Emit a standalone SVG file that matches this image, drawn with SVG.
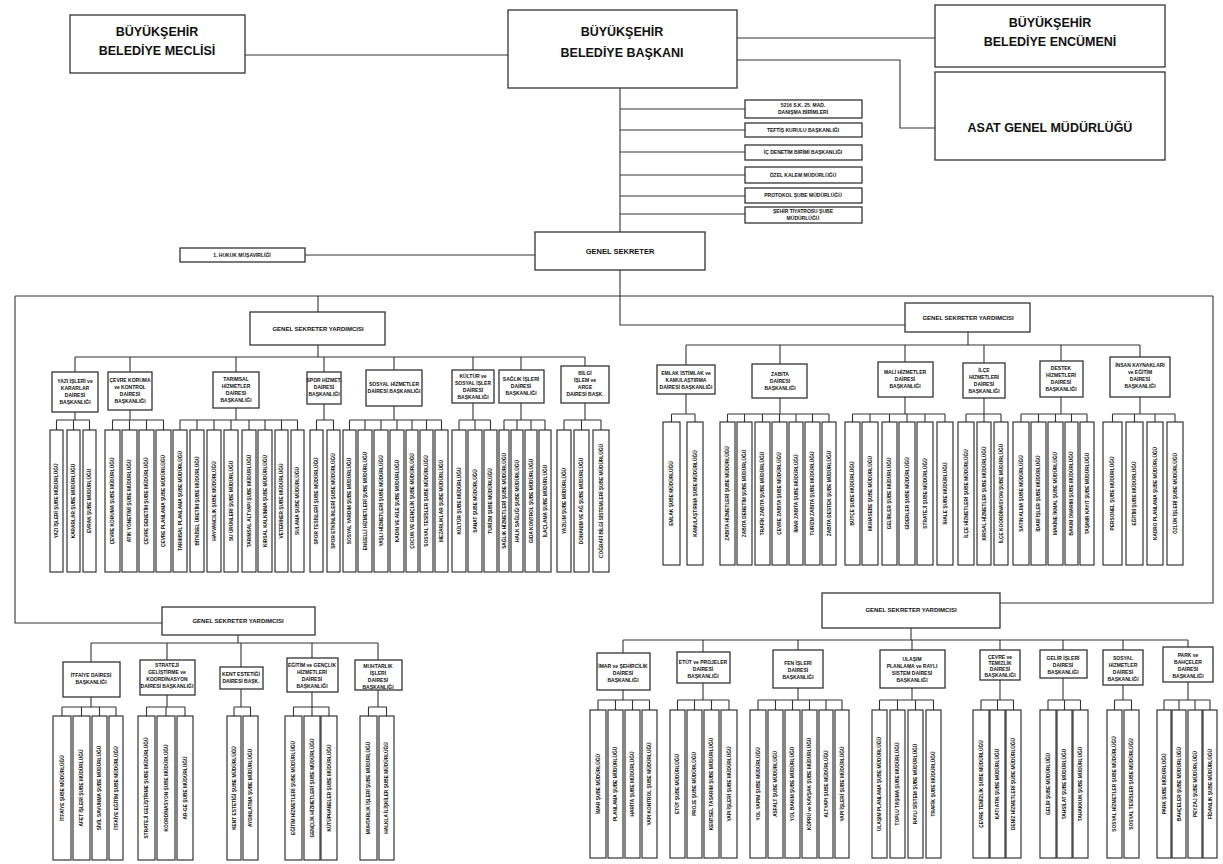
<svg xmlns="http://www.w3.org/2000/svg" width="1223" height="864" viewBox="0 0 1223 864">
<style>
text{font-family:"Liberation Sans",Arial,sans-serif;font-weight:bold;fill:#111;text-anchor:middle}
.b{fill:#fff;stroke:#333;stroke-width:1.3}
.s{fill:#fff;stroke:#222;stroke-width:1.1}
.c{fill:none;stroke:#333;stroke-width:1.1}
.t1{font-size:12.5px}
.t2{font-size:6px}
.t3{font-size:7.5px}
.t4{font-size:5px}
.st{font-size:4.8px;dominant-baseline:central}
</style>
<rect width="1223" height="864" fill="#fff"/>
<g id="connectors" class="c">
<path d="M245 55H508M737 38H935M737 60H900V128H935"/>
<path d="M620 88V232M620 109H745M620 130H745M620 152H745M620 175H745M620 196H745M620 214H745M305 255H535"/>
<path d="M620 270V325H905M15 296H1213M15 296V623H162M1213 296V603H1000M318 296V312"/>
<path d="M318 345V357M75 357H585M75 357V372M130 357V372M236 357V372M324 357V372M394 357V370M473 357V370M521 357V370M585 357V366"/>
<path d="M75 412V420M56.5 420H89.5M56.5 420V430M73.5 420V430M89.5 420V430"/>
<path d="M130 410V420M112.5 420H163.5M112.5 420V430M129.5 420V430M146.5 420V430M163.5 420V430"/>
<path d="M236 408V420M180 420H297.5M180 420V430M197 420V430M214 420V430M231 420V430M249 420V430M265 420V430M281.5 420V430M297.5 420V430"/>
<path d="M324 404V420M316.5 420H333.5M316.5 420V430M333.5 420V430"/>
<path d="M394 406V420M349.5 420H441.5M349.5 420V430M365 420V430M381 420V430M397 420V430M412 420V430M426.5 420V430M441.5 420V430"/>
<path d="M473 403V420M459 420H490.5M459 420V430M475 420V430M490.5 420V430"/>
<path d="M521 403V420M504 420H545M504 420V430M517 420V430M531 420V430M545 420V430"/>
<path d="M585 403V420M564 420H601M564 420V430M581.5 420V430M601 420V430"/>
<path d="M968 332V345M686 345H1140M686 345V365M780 345V364M905 345V362M984 345V363M1061 345V361M1140 345V357"/>
<path d="M686 394V414M671.5 414H695M671.5 414V422M695 414V422"/>
<path d="M780 398V414M727.5 414H829M727.5 414V422M744.5 414V422M762.5 414V422M779.5 414V422M796 414V422M812.5 414V422M829 414V422"/>
<path d="M905 397V414M852.5 414H945M852.5 414V422M870 414V422M889.5 414V422M907 414V422M925 414V422M945 414V422"/>
<path d="M984 398V414M966 414H1001M966 414V422M984 414V422M1001 414V422"/>
<path d="M1061 397V414M1021 414H1087M1021 414V422M1038.5 414V422M1055.5 414V422M1071.5 414V422M1087 414V422"/>
<path d="M1140 397V414M1112.5 414H1175M1112.5 414V422M1134.5 414V422M1155 414V422M1175 414V422"/>
<path d="M238 635V643M91 643H378M91 643V662M167 643V660M241 643V667M312 643V658M378 643V660"/>
<path d="M91 697V707M62 707H116M62 707V716M81.5 707V716M99.5 707V716M116 707V716"/>
<path d="M167 695V707M146.5 707H185M146.5 707V716M166 707V716M185 707V716"/>
<path d="M241 689V707M234 707H250.5M234 707V716M250.5 707V716"/>
<path d="M312 692V707M293.5 707H329M293.5 707V716M312 707V716M329 707V716"/>
<path d="M378 690V707M368.5 707H386.5M368.5 707V716M386.5 707V716"/>
<path d="M911 628V640M623 640H1188M623 640V653M703 640V652M798 640V650M912 640V650M1000 640V650M1063 640V650M1123 640V650M1188 640V647"/>
<path d="M623 690V700M598 700H649.5M598 700V710M615.5 700V710M632.5 700V710M649.5 700V710"/>
<path d="M703 683V700M677.5 700H729M677.5 700V710M694.5 700V710M711.5 700V710M729 700V710"/>
<path d="M798 688V700M758 700H842M758 700V710M775.5 700V710M792.5 700V710M809.5 700V710M826 700V710M842 700V710"/>
<path d="M912 688V700M879.5 700H933.5M879.5 700V710M897.5 700V710M915.5 700V710M933.5 700V710"/>
<path d="M1000 680V700M981 700H1013.5M981 700V710M997.5 700V710M1013.5 700V710"/>
<path d="M1063 678V700M1048 700H1080.5M1048 700V710M1064.5 700V710M1080.5 700V710"/>
<path d="M1123 685V700M1114.5 700H1131.5M1114.5 700V710M1131.5 700V710"/>
<path d="M1188 682V700M1164 700H1210M1164 700V710M1179 700V710M1195 700V710M1210 700V710"/>
</g>

<g id="meclis"><rect class="b" x="70" y="15" width="175" height="58"/><text class="t1" x="157" y="36">BÜYÜKŞEHİR</text><text class="t1" x="157" y="55">BELEDİYE MECLİSİ</text></g>
<g id="baskan"><rect class="b" x="508" y="10" width="229" height="78"/><text class="t1" x="622" y="36">BÜYÜKŞEHİR</text><text class="t1" x="622" y="57">BELEDİYE BAŞKANI</text></g>
<g id="encumen"><rect class="b" x="935" y="5" width="230" height="62"/><text class="t1" x="1050" y="27">BÜYÜKŞEHİR</text><text class="t1" x="1050" y="46">BELEDİYE ENCÜMENİ</text></g>
<g id="asat"><rect class="b" x="935" y="72" width="230" height="88"/><text class="t1" x="1050" y="132">ASAT GENEL MÜDÜRLÜĞÜ</text></g>

<g id="danisma"><rect class="b" x="745" y="100" width="117" height="18"/><text class="t4" x="803" y="107">5216 S.K. 25. MAD.</text><text class="t4" x="803" y="114">DANIŞMA BİRİMLERİ</text></g>
<g id="teftis"><rect class="b" x="745" y="123" width="117" height="14"/><text class="t4" x="803" y="132">TEFTİŞ KURULU BAŞKANLIĞI</text></g>
<g id="icdenetim"><rect class="b" x="745" y="145" width="117" height="15"/><text class="t4" x="803" y="154">İÇ DENETİM BİRİMİ BAŞKANLIĞI</text></g>
<g id="ozelkalem"><rect class="b" x="745" y="167" width="117" height="16"/><text class="t4" x="803" y="177">ÖZEL KALEM MÜDÜRLÜĞÜ</text></g>
<g id="protokol"><rect class="b" x="745" y="188" width="117" height="15"/><text class="t4" x="803" y="197">PROTOKOL ŞUBE MÜDÜRLÜĞÜ</text></g>
<g id="tiyatro"><rect class="b" x="745" y="207" width="117" height="16"/><text class="t4" x="803" y="213">ŞEHİR TİYATROSU ŞUBE</text><text class="t4" x="803" y="220">MÜDÜRLÜĞÜ</text></g>

<g id="hukuk"><rect class="b" x="180" y="248" width="125" height="14"/><text class="t4" x="242" y="257">1. HUKUK MÜŞAVİRLİĞİ</text></g>
<g id="genelsekreter"><rect class="b" x="535" y="232" width="170" height="38"/><text class="t3" x="620" y="254">GENEL SEKRETER</text></g>

<g id="gsy1"><rect class="b" x="250" y="312" width="135" height="33"/><text class="t2" x="318" y="331">GENEL SEKRETER YARDIMCISI</text></g>
<g id="gsy2"><rect class="b" x="905" y="303" width="125" height="29"/><text class="t2" x="968" y="320">GENEL SEKRETER YARDIMCISI</text></g>
<g id="gsy3"><rect class="b" x="162" y="607" width="153" height="28"/><text class="t2" x="238" y="623">GENEL SEKRETER YARDIMCISI</text></g>
<g id="gsy4"><rect class="b" x="822" y="593" width="178" height="35"/><text class="t2" x="911" y="612">GENEL SEKRETER YARDIMCISI</text></g>

<!-- Group 1 departments -->
<g id="g1d1"><rect class="b" x="52" y="372" width="46" height="40"/><text class="t4" x="75" y="383">YAZI İŞLERİ ve</text><text class="t4" x="75" y="390">KARARLAR</text><text class="t4" x="75" y="397">DAİRESİ</text><text class="t4" x="75" y="404">BAŞKANLIĞI</text></g>
<g id="g1d2"><rect class="b" x="108" y="372" width="44" height="38"/><text class="t4" x="130" y="382">ÇEVRE KORUMA</text><text class="t4" x="130" y="389">ve KONTROL</text><text class="t4" x="130" y="396">DAİRESİ</text><text class="t4" x="130" y="403">BAŞKANLIĞI</text></g>
<g id="g1d3"><rect class="b" x="213" y="372" width="46" height="36"/><text class="t4" x="236" y="381">TARIMSAL</text><text class="t4" x="236" y="388">HİZMETLER</text><text class="t4" x="236" y="395">DAİRESİ</text><text class="t4" x="236" y="402">BAŞKANLIĞI</text></g>
<g id="g1d4"><rect class="b" x="307" y="372" width="34" height="32"/><text class="t4" x="324" y="382">SPOR HİZMET.</text><text class="t4" x="324" y="389">DAİRESİ</text><text class="t4" x="324" y="396">BAŞKANLIĞI</text></g>
<g id="g1d5"><rect class="b" x="366" y="370" width="56" height="36"/><text class="t4" x="394" y="386">SOSYAL HİZMETLER</text><text class="t4" x="394" y="393">DAİRESİ BAŞKANLIĞI</text></g>
<g id="g1d6"><rect class="b" x="452" y="370" width="42" height="33"/><text class="t4" x="473" y="378">KÜLTÜR ve</text><text class="t4" x="473" y="385">SOSYAL İŞLER</text><text class="t4" x="473" y="392">DAİRESİ</text><text class="t4" x="473" y="399">BAŞKANLIĞI</text></g>
<g id="g1d7"><rect class="b" x="499" y="370" width="45" height="33"/><text class="t4" x="521" y="381">SAĞLIK İŞLERİ</text><text class="t4" x="521" y="388">DAİRESİ</text><text class="t4" x="521" y="395">BAŞKANLIĞI</text></g>
<g id="g1d8"><rect class="b" x="561" y="366" width="48" height="37"/><text class="t4" x="585" y="375">BİLGİ</text><text class="t4" x="585" y="382">İŞLEM ve</text><text class="t4" x="585" y="389">ARGE</text><text class="t4" x="585" y="396">DAİRESİ BAŞK.</text></g>

<!-- Group 1 units -->
<g id="g1d1u1"><rect class="s" x="50" y="430" width="13" height="142"/><text class="st" transform="translate(56.5 501) rotate(-90)">YAZI İŞLERİ ŞUBE MÜDÜRLÜĞÜ</text></g>
<g id="g1d1u2"><rect class="s" x="67" y="430" width="13" height="142"/><text class="st" transform="translate(73.5 501) rotate(-90)">KARARLAR ŞUBE MÜDÜRLÜĞÜ</text></g>
<g id="g1d1u3"><rect class="s" x="83" y="430" width="13" height="142"/><text class="st" transform="translate(89.5 501) rotate(-90)">EVRAK ŞUBE MÜDÜRLÜĞÜ</text></g>
<g id="g1d2u1"><rect class="s" x="105" y="430" width="15" height="142"/><text class="st" transform="translate(112.5 501) rotate(-90)">ÇEVRE KORUMA ŞUBE MÜDÜRLÜĞÜ</text></g>
<g id="g1d2u2"><rect class="s" x="122" y="430" width="15" height="142"/><text class="st" transform="translate(129.5 501) rotate(-90)">ATIK YÖNETİMİ ŞUBE MÜDÜRLÜĞÜ</text></g>
<g id="g1d2u3"><rect class="s" x="139" y="430" width="15" height="142"/><text class="st" transform="translate(146.5 501) rotate(-90)">ÇEVRE DENETİM ŞUBE MÜDÜRLÜĞÜ</text></g>
<g id="g1d2u4"><rect class="s" x="156" y="430" width="15" height="142"/><text class="st" transform="translate(163.5 501) rotate(-90)">ÇEVRE PLANLAMA ŞUBE MÜDÜRLÜĞÜ</text></g>
<g id="g1d3u1"><rect class="s" x="173" y="430" width="14" height="142"/><text class="st" transform="translate(180 501) rotate(-90)">TARIMSAL PLANLAMA ŞUBE MÜDÜRLÜĞÜ</text></g>
<g id="g1d3u2"><rect class="s" x="190" y="430" width="14" height="142"/><text class="st" transform="translate(197 501) rotate(-90)">BİTKİSEL ÜRETİM ŞUBE MÜDÜRLÜĞÜ</text></g>
<g id="g1d3u3"><rect class="s" x="207" y="430" width="14" height="142"/><text class="st" transform="translate(214 501) rotate(-90)">HAYVANCILIK ŞUBE MÜDÜRLÜĞÜ</text></g>
<g id="g1d3u4"><rect class="s" x="224" y="430" width="14" height="142"/><text class="st" transform="translate(231 501) rotate(-90)">SU ÜRÜNLERİ ŞUBE MÜDÜRLÜĞÜ</text></g>
<g id="g1d3u5"><rect class="s" x="242" y="430" width="14" height="142"/><text class="st" transform="translate(249 501) rotate(-90)">TARIMSAL ALTYAPI ŞUBE MÜDÜRLÜĞÜ</text></g>
<g id="g1d3u6"><rect class="s" x="258" y="430" width="14" height="142"/><text class="st" transform="translate(265 501) rotate(-90)">KIRSAL KALKINMA ŞUBE MÜDÜRLÜĞÜ</text></g>
<g id="g1d3u7"><rect class="s" x="275" y="430" width="13" height="142"/><text class="st" transform="translate(281.5 501) rotate(-90)">VETERİNER ŞUBE MÜDÜRLÜĞÜ</text></g>
<g id="g1d3u8"><rect class="s" x="291" y="430" width="13" height="142"/><text class="st" transform="translate(297.5 501) rotate(-90)">SULAMA ŞUBE MÜDÜRLÜĞÜ</text></g>
<g id="g1d4u1"><rect class="s" x="310" y="430" width="13" height="142"/><text class="st" transform="translate(316.5 501) rotate(-90)">SPOR TESİSLERİ ŞUBE MÜDÜRLÜĞÜ</text></g>
<g id="g1d4u2"><rect class="s" x="327" y="430" width="13" height="142"/><text class="st" transform="translate(333.5 501) rotate(-90)">SPOR ETKİNLİKLERİ ŞUBE MÜDÜRLÜĞÜ</text></g>
<g id="g1d5u1"><rect class="s" x="343" y="430" width="13" height="142"/><text class="st" transform="translate(349.5 501) rotate(-90)">SOSYAL YARDIM ŞUBE MÜDÜRLÜĞÜ</text></g>
<g id="g1d5u2"><rect class="s" x="358" y="430" width="14" height="142"/><text class="st" transform="translate(365 501) rotate(-90)">ENGELLİ HİZMETLERİ ŞUBE MÜDÜRLÜĞÜ</text></g>
<g id="g1d5u3"><rect class="s" x="374" y="430" width="14" height="142"/><text class="st" transform="translate(381 501) rotate(-90)">YAŞLI HİZMETLERİ ŞUBE MÜDÜRLÜĞÜ</text></g>
<g id="g1d5u4"><rect class="s" x="390" y="430" width="14" height="142"/><text class="st" transform="translate(397 501) rotate(-90)">KADIN VE AİLE ŞUBE MÜDÜRLÜĞÜ</text></g>
<g id="g1d5u5"><rect class="s" x="406" y="430" width="12" height="142"/><text class="st" transform="translate(412 501) rotate(-90)">ÇOCUK VE GENÇLİK ŞUBE MÜDÜRLÜĞÜ</text></g>
<g id="g1d5u6"><rect class="s" x="420" y="430" width="13" height="142"/><text class="st" transform="translate(426.5 501) rotate(-90)">SOSYAL TESİSLER ŞUBE MÜDÜRLÜĞÜ</text></g>
<g id="g1d5u7"><rect class="s" x="435" y="430" width="13" height="142"/><text class="st" transform="translate(441.5 501) rotate(-90)">MEZARLIKLAR ŞUBE MÜDÜRLÜĞÜ</text></g>
<g id="g1d6u1"><rect class="s" x="452" y="430" width="14" height="142"/><text class="st" transform="translate(459 501) rotate(-90)">KÜLTÜR ŞUBE MÜDÜRLÜĞÜ</text></g>
<g id="g1d6u2"><rect class="s" x="468" y="430" width="14" height="142"/><text class="st" transform="translate(475 501) rotate(-90)">SANAT ŞUBE MÜDÜRLÜĞÜ</text></g>
<g id="g1d6u3"><rect class="s" x="484" y="430" width="13" height="142"/><text class="st" transform="translate(490.5 501) rotate(-90)">TURİZM ŞUBE MÜDÜRLÜĞÜ</text></g>
<g id="g1d7u1"><rect class="s" x="499" y="430" width="10" height="142"/><text class="st" transform="translate(504 501) rotate(-90)">SAĞLIK HİZMETLERİ ŞUBE MÜDÜRLÜĞÜ</text></g>
<g id="g1d7u2"><rect class="s" x="511" y="430" width="12" height="142"/><text class="st" transform="translate(517 501) rotate(-90)">HALK SAĞLIĞI ŞUBE MÜDÜRLÜĞÜ</text></g>
<g id="g1d7u3"><rect class="s" x="525" y="430" width="12" height="142"/><text class="st" transform="translate(531 501) rotate(-90)">GIDA KONTROL ŞUBE MÜDÜRLÜĞÜ</text></g>
<g id="g1d7u4"><rect class="s" x="539" y="430" width="12" height="142"/><text class="st" transform="translate(545 501) rotate(-90)">İLAÇLAMA ŞUBE MÜDÜRLÜĞÜ</text></g>
<g id="g1d8u1"><rect class="s" x="557" y="430" width="14" height="142"/><text class="st" transform="translate(564 501) rotate(-90)">YAZILIM ŞUBE MÜDÜRLÜĞÜ</text></g>
<g id="g1d8u2"><rect class="s" x="574" y="430" width="15" height="142"/><text class="st" transform="translate(581.5 501) rotate(-90)">DONANIM VE AĞ ŞUBE MÜDÜRLÜĞÜ</text></g>
<g id="g1d8u3"><rect class="s" x="593" y="430" width="16" height="142"/><text class="st" transform="translate(601 501) rotate(-90)">COĞRAFİ BİLGİ SİSTEMLERİ ŞUBE MÜDÜRLÜĞÜ</text></g>

<!-- Group 2 departments -->
<g id="g2d1"><rect class="b" x="657" y="365" width="58" height="29"/><text class="t4" x="686" y="375">EMLAK İSTİMLAK ve</text><text class="t4" x="686" y="382">KAMULAŞTIRMA</text><text class="t4" x="686" y="389">DAİRESİ BAŞKANLIĞI</text></g>
<g id="g2d2"><rect class="b" x="752" y="364" width="55" height="34"/><text class="t4" x="780" y="376">ZABITA</text><text class="t4" x="780" y="383">DAİRESİ</text><text class="t4" x="780" y="390">BAŞKANLIĞI</text></g>
<g id="g2d3"><rect class="b" x="878" y="362" width="55" height="35"/><text class="t4" x="905" y="374">MALİ HİZMETLER</text><text class="t4" x="905" y="381">DAİRESİ</text><text class="t4" x="905" y="388">BAŞKANLIĞI</text></g>
<g id="g2d4"><rect class="b" x="963" y="363" width="42" height="35"/><text class="t4" x="984" y="372">İLÇE</text><text class="t4" x="984" y="379">HİZMETLERİ</text><text class="t4" x="984" y="386">DAİRESİ</text><text class="t4" x="984" y="393">BAŞKANLIĞI</text></g>
<g id="g2d5"><rect class="b" x="1040" y="361" width="43" height="36"/><text class="t4" x="1061" y="370">DESTEK</text><text class="t4" x="1061" y="377">HİZMETLERİ</text><text class="t4" x="1061" y="384">DAİRESİ</text><text class="t4" x="1061" y="391">BAŞKANLIĞI</text></g>
<g id="g2d6"><rect class="b" x="1110" y="357" width="60" height="40"/><text class="t4" x="1140" y="367">İNSAN KAYNAKLARI</text><text class="t4" x="1140" y="374">ve EĞİTİM</text><text class="t4" x="1140" y="381">DAİRESİ</text><text class="t4" x="1140" y="388">BAŞKANLIĞI</text></g>

<!-- Group 2 units -->
<g id="g2d1u1"><rect class="s" x="663" y="422" width="17" height="143"/><text class="st" transform="translate(671.5 493.5) rotate(-90)">EMLAK ŞUBE MÜDÜRLÜĞÜ</text></g>
<g id="g2d1u2"><rect class="s" x="687" y="422" width="16" height="143"/><text class="st" transform="translate(695 493.5) rotate(-90)">KAMULAŞTIRMA ŞUBE MÜDÜRLÜĞÜ</text></g>
<g id="g2d2u1"><rect class="s" x="720" y="422" width="15" height="143"/><text class="st" transform="translate(727.5 493.5) rotate(-90)">ZABITA HİZMETLERİ ŞUBE MÜDÜRLÜĞÜ</text></g>
<g id="g2d2u2"><rect class="s" x="737" y="422" width="15" height="143"/><text class="st" transform="translate(744.5 493.5) rotate(-90)">ZABITA DENETİM ŞUBE MÜDÜRLÜĞÜ</text></g>
<g id="g2d2u3"><rect class="s" x="755" y="422" width="15" height="143"/><text class="st" transform="translate(762.5 493.5) rotate(-90)">TRAFİK ZABITA ŞUBE MÜDÜRLÜĞÜ</text></g>
<g id="g2d2u4"><rect class="s" x="772" y="422" width="15" height="143"/><text class="st" transform="translate(779.5 493.5) rotate(-90)">ÇEVRE ZABITA ŞUBE MÜDÜRLÜĞÜ</text></g>
<g id="g2d2u5"><rect class="s" x="789" y="422" width="14" height="143"/><text class="st" transform="translate(796 493.5) rotate(-90)">İMAR ZABITA ŞUBE MÜDÜRLÜĞÜ</text></g>
<g id="g2d2u6"><rect class="s" x="805" y="422" width="15" height="143"/><text class="st" transform="translate(812.5 493.5) rotate(-90)">TURİZM ZABITA ŞUBE MÜDÜRLÜĞÜ</text></g>
<g id="g2d2u7"><rect class="s" x="822" y="422" width="14" height="143"/><text class="st" transform="translate(829 493.5) rotate(-90)">ZABITA DESTEK ŞUBE MÜDÜRLÜĞÜ</text></g>
<g id="g2d3u1"><rect class="s" x="845" y="422" width="15" height="143"/><text class="st" transform="translate(852.5 493.5) rotate(-90)">BÜTÇE ŞUBE MÜDÜRLÜĞÜ</text></g>
<g id="g2d3u2"><rect class="s" x="862" y="422" width="16" height="143"/><text class="st" transform="translate(870 493.5) rotate(-90)">MUHASEBE ŞUBE MÜDÜRLÜĞÜ</text></g>
<g id="g2d3u3"><rect class="s" x="882" y="422" width="15" height="143"/><text class="st" transform="translate(889.5 493.5) rotate(-90)">GELİRLER ŞUBE MÜDÜRLÜĞÜ</text></g>
<g id="g2d3u4"><rect class="s" x="899" y="422" width="16" height="143"/><text class="st" transform="translate(907 493.5) rotate(-90)">GİDERLER ŞUBE MÜDÜRLÜĞÜ</text></g>
<g id="g2d3u5"><rect class="s" x="917" y="422" width="16" height="143"/><text class="st" transform="translate(925 493.5) rotate(-90)">STRATEJİ ŞUBE MÜDÜRLÜĞÜ</text></g>
<g id="g2d3u6"><rect class="s" x="937" y="422" width="16" height="143"/><text class="st" transform="translate(945 493.5) rotate(-90)">İHALE ŞUBE MÜDÜRLÜĞÜ</text></g>
<g id="g2d4u1"><rect class="s" x="958" y="422" width="16" height="143"/><text class="st" transform="translate(966 493.5) rotate(-90)">İLÇE HİZMETLERİ ŞUBE MÜDÜRLÜĞÜ</text></g>
<g id="g2d4u2"><rect class="s" x="977" y="422" width="14" height="143"/><text class="st" transform="translate(984 493.5) rotate(-90)">KIRSAL HİZMETLER ŞUBE MÜDÜRLÜĞÜ</text></g>
<g id="g2d4u3"><rect class="s" x="994" y="422" width="14" height="143"/><text class="st" transform="translate(1001 493.5) rotate(-90)">İLÇE KOORDİNASYON ŞUBE MÜDÜRLÜĞÜ</text></g>
<g id="g2d5u1"><rect class="s" x="1013" y="422" width="16" height="143"/><text class="st" transform="translate(1021 493.5) rotate(-90)">SATIN ALMA ŞUBE MÜDÜRLÜĞÜ</text></g>
<g id="g2d5u2"><rect class="s" x="1031" y="422" width="15" height="143"/><text class="st" transform="translate(1038.5 493.5) rotate(-90)">İDARİ İŞLER ŞUBE MÜDÜRLÜĞÜ</text></g>
<g id="g2d5u3"><rect class="s" x="1048" y="422" width="15" height="143"/><text class="st" transform="translate(1055.5 493.5) rotate(-90)">MAKİNE İKMAL ŞUBE MÜDÜRLÜĞÜ</text></g>
<g id="g2d5u4"><rect class="s" x="1065" y="422" width="13" height="143"/><text class="st" transform="translate(1071.5 493.5) rotate(-90)">BAKIM ONARIM ŞUBE MÜDÜRLÜĞÜ</text></g>
<g id="g2d5u5"><rect class="s" x="1080" y="422" width="14" height="143"/><text class="st" transform="translate(1087 493.5) rotate(-90)">TAŞINIR KAYIT ŞUBE MÜDÜRLÜĞÜ</text></g>
<g id="g2d6u1"><rect class="s" x="1103" y="422" width="19" height="143"/><text class="st" transform="translate(1112.5 493.5) rotate(-90)">PERSONEL ŞUBE MÜDÜRLÜĞÜ</text></g>
<g id="g2d6u2"><rect class="s" x="1126" y="422" width="17" height="143"/><text class="st" transform="translate(1134.5 493.5) rotate(-90)">EĞİTİM ŞUBE MÜDÜRLÜĞÜ</text></g>
<g id="g2d6u3"><rect class="s" x="1147" y="422" width="16" height="143"/><text class="st" transform="translate(1155 493.5) rotate(-90)">KADRO PLANLAMA ŞUBE MÜDÜRLÜĞÜ</text></g>
<g id="g2d6u4"><rect class="s" x="1167" y="422" width="16" height="143"/><text class="st" transform="translate(1175 493.5) rotate(-90)">ÖZLÜK İŞLERİ ŞUBE MÜDÜRLÜĞÜ</text></g>

<!-- Group 3 departments -->
<g id="g3d1"><rect class="b" x="63" y="662" width="57" height="35"/><text class="t4" x="91" y="677">İTFAİYE DAİRESİ</text><text class="t4" x="91" y="684">BAŞKANLIĞI</text></g>
<g id="g3d2"><rect class="b" x="140" y="660" width="55" height="35"/><text class="t4" x="167" y="667">STRATEJİ</text><text class="t4" x="167" y="674">GELİŞTİRME ve</text><text class="t4" x="167" y="681">KOORDİNASYON</text><text class="t4" x="167" y="688">DAİRESİ BAŞKANLIĞI</text></g>
<g id="g3d3"><rect class="b" x="220" y="667" width="43" height="22"/><text class="t4" x="241" y="676">KENT ESTETİĞİ</text><text class="t4" x="241" y="683">DAİRESİ BAŞK.</text></g>
<g id="g3d4"><rect class="b" x="287" y="658" width="51" height="34"/><text class="t4" x="312" y="667">EĞİTİM ve GENÇLİK</text><text class="t4" x="312" y="674">HİZMETLERİ</text><text class="t4" x="312" y="681">DAİRESİ</text><text class="t4" x="312" y="688">BAŞKANLIĞI</text></g>
<g id="g3d5"><rect class="b" x="355" y="660" width="47" height="30"/><text class="t4" x="378" y="668">MUHTARLIK</text><text class="t4" x="378" y="675">İŞLERİ</text><text class="t4" x="378" y="682">DAİRESİ</text><text class="t4" x="378" y="689">BAŞKANLIĞI</text></g>

<!-- Group 3 units -->
<g id="g3d1u1"><rect class="s" x="53" y="716" width="18" height="144"/><text class="st" transform="translate(62 788) rotate(-90)">İTFAİYE ŞUBE MÜDÜRLÜĞÜ</text></g>
<g id="g3d1u2"><rect class="s" x="73" y="716" width="17" height="144"/><text class="st" transform="translate(81.5 788) rotate(-90)">AFET İŞLERİ ŞUBE MÜDÜRLÜĞÜ</text></g>
<g id="g3d1u3"><rect class="s" x="92" y="716" width="15" height="144"/><text class="st" transform="translate(99.5 788) rotate(-90)">SİVİL SAVUNMA ŞUBE MÜDÜRLÜĞÜ</text></g>
<g id="g3d1u4"><rect class="s" x="109" y="716" width="14" height="144"/><text class="st" transform="translate(116 788) rotate(-90)">İTFAİYE EĞİTİM ŞUBE MÜDÜRLÜĞÜ</text></g>
<g id="g3d2u1"><rect class="s" x="138" y="716" width="17" height="144"/><text class="st" transform="translate(146.5 788) rotate(-90)">STRATEJİ GELİŞTİRME ŞUBE MÜDÜRLÜĞÜ</text></g>
<g id="g3d2u2"><rect class="s" x="157" y="716" width="18" height="144"/><text class="st" transform="translate(166 788) rotate(-90)">KOORDİNASYON ŞUBE MÜDÜRLÜĞÜ</text></g>
<g id="g3d2u3"><rect class="s" x="177" y="716" width="16" height="144"/><text class="st" transform="translate(185 788) rotate(-90)">AR-GE ŞUBE MÜDÜRLÜĞÜ</text></g>
<g id="g3d3u1"><rect class="s" x="227" y="716" width="14" height="144"/><text class="st" transform="translate(234 788) rotate(-90)">KENT ESTETİĞİ ŞUBE MÜDÜRLÜĞÜ</text></g>
<g id="g3d3u2"><rect class="s" x="243" y="716" width="15" height="144"/><text class="st" transform="translate(250.5 788) rotate(-90)">AYDINLATMA ŞUBE MÜDÜRLÜĞÜ</text></g>
<g id="g3d4u1"><rect class="s" x="285" y="716" width="17" height="144"/><text class="st" transform="translate(293.5 788) rotate(-90)">EĞİTİM HİZMETLERİ ŞUBE MÜDÜRLÜĞÜ</text></g>
<g id="g3d4u2"><rect class="s" x="304" y="716" width="16" height="144"/><text class="st" transform="translate(312 788) rotate(-90)">GENÇLİK HİZMETLERİ ŞUBE MÜDÜRLÜĞÜ</text></g>
<g id="g3d4u3"><rect class="s" x="321" y="716" width="16" height="144"/><text class="st" transform="translate(329 788) rotate(-90)">KÜTÜPHANELER ŞUBE MÜDÜRLÜĞÜ</text></g>
<g id="g3d5u1"><rect class="s" x="360" y="716" width="17" height="144"/><text class="st" transform="translate(368.5 788) rotate(-90)">MUHTARLIK İŞLERİ ŞUBE MÜDÜRLÜĞÜ</text></g>
<g id="g3d5u2"><rect class="s" x="379" y="716" width="15" height="144"/><text class="st" transform="translate(386.5 788) rotate(-90)">HALKLA İLİŞKİLER ŞUBE MÜDÜRLÜĞÜ</text></g>

<!-- Group 4 departments -->
<g id="g4d1"><rect class="b" x="597" y="653" width="53" height="37"/><text class="t4" x="623" y="668">İMAR ve ŞEHİRCİLİK</text><text class="t4" x="623" y="675">DAİRESİ</text><text class="t4" x="623" y="682">BAŞKANLIĞI</text></g>
<g id="g4d2"><rect class="b" x="677" y="652" width="53" height="31"/><text class="t4" x="703" y="664">ETÜT ve PROJELER</text><text class="t4" x="703" y="671">DAİRESİ</text><text class="t4" x="703" y="678">BAŞKANLIĞI</text></g>
<g id="g4d3"><rect class="b" x="773" y="650" width="50" height="38"/><text class="t4" x="798" y="665">FEN İŞLERİ</text><text class="t4" x="798" y="672">DAİRESİ</text><text class="t4" x="798" y="679">BAŞKANLIĞI</text></g>
<g id="g4d4"><rect class="b" x="880" y="650" width="65" height="38"/><text class="t4" x="912" y="661">ULAŞIM</text><text class="t4" x="912" y="668">PLANLAMA ve RAYLI</text><text class="t4" x="912" y="675">SİSTEM DAİRESİ</text><text class="t4" x="912" y="682">BAŞKANLIĞI</text></g>
<g id="g4d5"><rect class="b" x="980" y="650" width="40" height="30"/><text class="t4" x="1000" y="659">ÇEVRE ve</text><text class="t4" x="1000" y="665">TEMİZLİK</text><text class="t4" x="1000" y="671">DAİRESİ</text><text class="t4" x="1000" y="677">BAŞKANLIĞI</text></g>
<g id="g4d6"><rect class="b" x="1040" y="650" width="47" height="28"/><text class="t4" x="1063" y="660">GELİR İŞLERİ</text><text class="t4" x="1063" y="667">DAİRESİ</text><text class="t4" x="1063" y="674">BAŞKANLIĞI</text></g>
<g id="g4d7"><rect class="b" x="1103" y="650" width="40" height="35"/><text class="t4" x="1123" y="660">SOSYAL</text><text class="t4" x="1123" y="667">HİZMETLER</text><text class="t4" x="1123" y="674">DAİRESİ</text><text class="t4" x="1123" y="681">BAŞKANLIĞI</text></g>
<g id="g4d8"><rect class="b" x="1163" y="647" width="50" height="35"/><text class="t4" x="1188" y="657">PARK ve</text><text class="t4" x="1188" y="664">BAHÇELER</text><text class="t4" x="1188" y="671">DAİRESİ</text><text class="t4" x="1188" y="678">BAŞKANLIĞI</text></g>

<!-- Group 4 units -->
<g id="g4d1u1"><rect class="s" x="590" y="710" width="16" height="148"/><text class="st" transform="translate(598 784) rotate(-90)">İMAR ŞUBE MÜDÜRLÜĞÜ</text></g>
<g id="g4d1u2"><rect class="s" x="608" y="710" width="15" height="148"/><text class="st" transform="translate(615.5 784) rotate(-90)">PLANLAMA ŞUBE MÜDÜRLÜĞÜ</text></g>
<g id="g4d1u3"><rect class="s" x="625" y="710" width="15" height="148"/><text class="st" transform="translate(632.5 784) rotate(-90)">HARİTA ŞUBE MÜDÜRLÜĞÜ</text></g>
<g id="g4d1u4"><rect class="s" x="642" y="710" width="15" height="148"/><text class="st" transform="translate(649.5 784) rotate(-90)">YAPI KONTROL ŞUBE MÜDÜRLÜĞÜ</text></g>
<g id="g4d2u1"><rect class="s" x="670" y="710" width="15" height="148"/><text class="st" transform="translate(677.5 784) rotate(-90)">ETÜT ŞUBE MÜDÜRLÜĞÜ</text></g>
<g id="g4d2u2"><rect class="s" x="687" y="710" width="15" height="148"/><text class="st" transform="translate(694.5 784) rotate(-90)">PROJE ŞUBE MÜDÜRLÜĞÜ</text></g>
<g id="g4d2u3"><rect class="s" x="704" y="710" width="15" height="148"/><text class="st" transform="translate(711.5 784) rotate(-90)">KENTSEL TASARIM ŞUBE MÜDÜRLÜĞÜ</text></g>
<g id="g4d2u4"><rect class="s" x="721" y="710" width="16" height="148"/><text class="st" transform="translate(729 784) rotate(-90)">YAPI İŞLERİ ŞUBE MÜDÜRLÜĞÜ</text></g>
<g id="g4d3u1"><rect class="s" x="750" y="710" width="16" height="148"/><text class="st" transform="translate(758 784) rotate(-90)">YOL YAPIM ŞUBE MÜDÜRLÜĞÜ</text></g>
<g id="g4d3u2"><rect class="s" x="768" y="710" width="15" height="148"/><text class="st" transform="translate(775.5 784) rotate(-90)">ASFALT ŞUBE MÜDÜRLÜĞÜ</text></g>
<g id="g4d3u3"><rect class="s" x="785" y="710" width="15" height="148"/><text class="st" transform="translate(792.5 784) rotate(-90)">YOL BAKIM ŞUBE MÜDÜRLÜĞÜ</text></g>
<g id="g4d3u4"><rect class="s" x="802" y="710" width="15" height="148"/><text class="st" transform="translate(809.5 784) rotate(-90)">KÖPRÜ ve KAVŞAK ŞUBE MÜDÜRLÜĞÜ</text></g>
<g id="g4d3u5"><rect class="s" x="819" y="710" width="14" height="148"/><text class="st" transform="translate(826 784) rotate(-90)">ALTYAPI ŞUBE MÜDÜRLÜĞÜ</text></g>
<g id="g4d3u6"><rect class="s" x="835" y="710" width="14" height="148"/><text class="st" transform="translate(842 784) rotate(-90)">YAPI İŞLERİ ŞUBE MÜDÜRLÜĞÜ</text></g>
<g id="g4d4u1"><rect class="s" x="872" y="710" width="15" height="148"/><text class="st" transform="translate(879.5 784) rotate(-90)">ULAŞIM PLANLAMA ŞUBE MÜDÜRLÜĞÜ</text></g>
<g id="g4d4u2"><rect class="s" x="890" y="710" width="15" height="148"/><text class="st" transform="translate(897.5 784) rotate(-90)">TOPLU TAŞIMA ŞUBE MÜDÜRLÜĞÜ</text></g>
<g id="g4d4u3"><rect class="s" x="908" y="710" width="15" height="148"/><text class="st" transform="translate(915.5 784) rotate(-90)">RAYLI SİSTEM ŞUBE MÜDÜRLÜĞÜ</text></g>
<g id="g4d4u4"><rect class="s" x="926" y="710" width="15" height="148"/><text class="st" transform="translate(933.5 784) rotate(-90)">TRAFİK ŞUBE MÜDÜRLÜĞÜ</text></g>
<g id="g4d5u1"><rect class="s" x="973" y="710" width="16" height="148"/><text class="st" transform="translate(981 784) rotate(-90)">ÇEVRE TEMİZLİK ŞUBE MÜDÜRLÜĞÜ</text></g>
<g id="g4d5u2"><rect class="s" x="990" y="710" width="15" height="148"/><text class="st" transform="translate(997.5 784) rotate(-90)">KATI ATIK ŞUBE MÜDÜRLÜĞÜ</text></g>
<g id="g4d5u3"><rect class="s" x="1006" y="710" width="15" height="148"/><text class="st" transform="translate(1013.5 784) rotate(-90)">DENİZ HİZMETLERİ ŞUBE MÜDÜRLÜĞÜ</text></g>
<g id="g4d6u1"><rect class="s" x="1040" y="710" width="16" height="148"/><text class="st" transform="translate(1048 784) rotate(-90)">GELİR ŞUBE MÜDÜRLÜĞÜ</text></g>
<g id="g4d6u2"><rect class="s" x="1057" y="710" width="15" height="148"/><text class="st" transform="translate(1064.5 784) rotate(-90)">TAHSİLAT ŞUBE MÜDÜRLÜĞÜ</text></g>
<g id="g4d6u3"><rect class="s" x="1073" y="710" width="15" height="148"/><text class="st" transform="translate(1080.5 784) rotate(-90)">TAHAKKUK ŞUBE MÜDÜRLÜĞÜ</text></g>
<g id="g4d7u1"><rect class="s" x="1107" y="710" width="15" height="148"/><text class="st" transform="translate(1114.5 784) rotate(-90)">SOSYAL HİZMETLER ŞUBE MÜDÜRLÜĞÜ</text></g>
<g id="g4d7u2"><rect class="s" x="1124" y="710" width="15" height="148"/><text class="st" transform="translate(1131.5 784) rotate(-90)">SOSYAL TESİSLER ŞUBE MÜDÜRLÜĞÜ</text></g>
<g id="g4d8u1"><rect class="s" x="1157" y="710" width="14" height="148"/><text class="st" transform="translate(1164 784) rotate(-90)">PARK ŞUBE MÜDÜRLÜĞÜ</text></g>
<g id="g4d8u2"><rect class="s" x="1172" y="710" width="14" height="148"/><text class="st" transform="translate(1179 784) rotate(-90)">BAHÇELER ŞUBE MÜDÜRLÜĞÜ</text></g>
<g id="g4d8u3"><rect class="s" x="1188" y="710" width="14" height="148"/><text class="st" transform="translate(1195 784) rotate(-90)">PEYZAJ ŞUBE MÜDÜRLÜĞÜ</text></g>
<g id="g4d8u4"><rect class="s" x="1203" y="710" width="14" height="148"/><text class="st" transform="translate(1210 784) rotate(-90)">FİDANLIK ŞUBE MÜDÜRLÜĞÜ</text></g>
</svg>
